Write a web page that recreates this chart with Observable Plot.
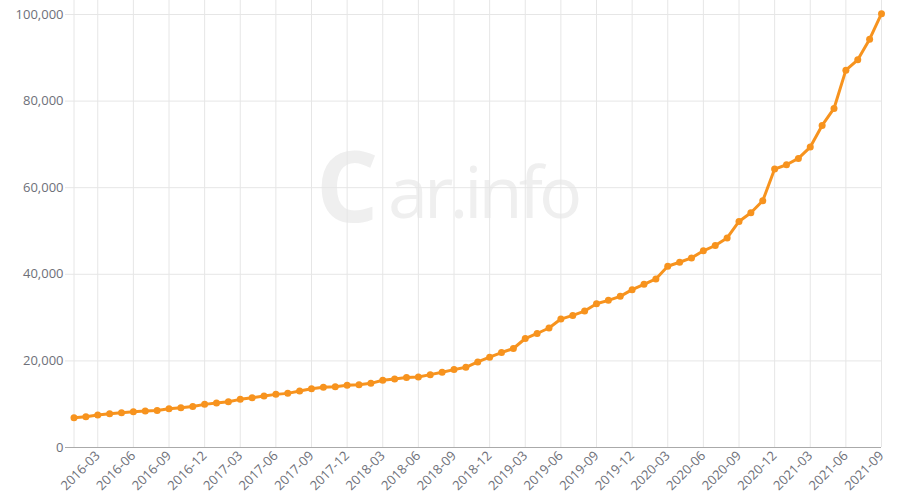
<!DOCTYPE html>
<html>
<head>
<meta charset="utf-8">
<script src="https://cdn.jsdelivr.net/npm/d3@7"></script>
<script src="https://cdn.jsdelivr.net/npm/@observablehq/plot@0.6"></script>
<style>
  body { margin: 0; background: #fff; }
  #wrap { position: relative; width: 900px; height: 500px; }
  #wm { position: absolute; left: 0; top: 0; }
  #chart { position: absolute; left: 0; top: 0; }
</style>
</head>
<body>
<div id="wrap">
  <svg id="wm" width="900" height="500">
    <g fill="#efefef" font-family="Open Sans, sans-serif">
      <text x="316" y="222" font-size="98" font-weight="700">C</text>
      <text x="388" y="218" font-size="72" letter-spacing="-4">ar.info</text>
    </g>
  </svg>
  <div id="chart"></div>
</div>
<script>
const months = [
  "2016-01","2016-02","2016-03","2016-04","2016-05","2016-06","2016-07","2016-08","2016-09","2016-10","2016-11","2016-12",
  "2017-01","2017-02","2017-03","2017-04","2017-05","2017-06","2017-07","2017-08","2017-09","2017-10","2017-11","2017-12",
  "2018-01","2018-02","2018-03","2018-04","2018-05","2018-06","2018-07","2018-08","2018-09","2018-10","2018-11","2018-12",
  "2019-01","2019-02","2019-03","2019-04","2019-05","2019-06","2019-07","2019-08","2019-09","2019-10","2019-11","2019-12",
  "2020-01","2020-02","2020-03","2020-04","2020-05","2020-06","2020-07","2020-08","2020-09","2020-10","2020-11","2020-12",
  "2021-01","2021-02","2021-03","2021-04","2021-05","2021-06","2021-07","2021-08","2021-09"
];
const values = [
  6870, 7100, 7490, 7790, 8030, 8260, 8410, 8570, 8950, 9180, 9490, 9960,
  10270, 10570, 11120, 11500, 11890, 12270, 12500, 13050, 13550, 13900, 14050, 14360,
  14510, 14820, 15520, 15830, 16140, 16290, 16830, 17370, 17990, 18530, 19770, 20850,
  21930, 22860, 25170, 26330, 27600, 29660, 30500, 31510, 33210, 33980, 34910, 36450,
  37690, 38930, 41860, 42790, 43790, 45420, 46650, 48400, 52200, 54200, 57000, 64300,
  65300, 66770, 69380, 74380, 78300, 87150, 89540, 94310, 100200
];
const xTickLabels = [
  "2016-03","2016-06","2016-09","2016-12","2017-03","2017-06","2017-09","2017-12",
  "2018-03","2018-06","2018-09","2018-12","2019-03","2019-06","2019-09","2019-12",
  "2020-03","2020-06","2020-09","2020-12","2021-03","2021-06","2021-09"
];
const xGridLines = ["2016-01", ...xTickLabels];
const yTicks = [0, 20000, 40000, 60000, 80000, 100000];

const data = months.map((m, i) => ({month: m, value: values[i]}));
const orange = "#f7931e";

const chart = Plot.plot({
  width: 900,
  height: 500,
  marginLeft: 65,
  marginRight: 19,
  marginTop: 0,
  marginBottom: 53,
  style: {fontFamily: "Open Sans, sans-serif", fontSize: "13px", color: "#6e7079", background: "transparent"},
  x: {type: "point", domain: months, padding: 0, insetLeft: 8.5, label: null},
  y: {domain: [0, 103233], label: null},
  marks: [
    Plot.ruleX(xGridLines, {stroke: "#e6e6e6", strokeWidth: 1}),
    Plot.ruleY(yTicks.slice(1), {stroke: "#e6e6e6", strokeWidth: 1}),
    Plot.ruleY([0], {stroke: "#aaaaaa", strokeWidth: 1}),
    Plot.axisY({ticks: yTicks, tickSize: 0, tickPadding: 2, tickFormat: d3.format(","), label: null}),
    Plot.axisX({ticks: xTickLabels, tickSize: 0, tickPadding: 6, tickRotate: -45, label: null}),
    Plot.line(data, {x: "month", y: "value", stroke: orange, strokeWidth: 3}),
    Plot.dot(data, {x: "month", y: "value", r: 3.5, fill: orange})
  ]
});
document.getElementById("chart").appendChild(chart);
</script>
</body>
</html>
